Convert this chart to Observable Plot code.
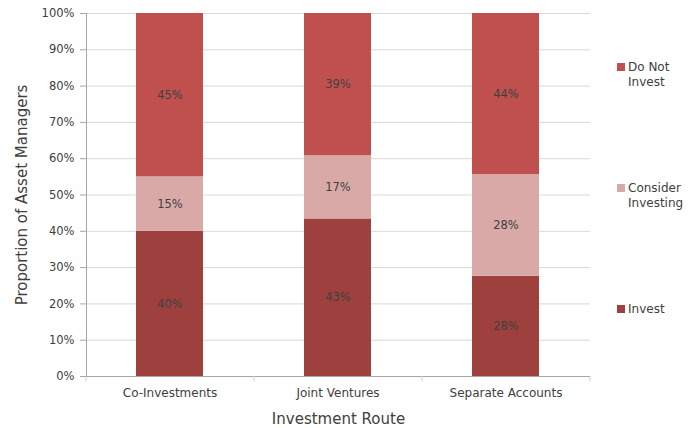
<!DOCTYPE html>
<html>
<head>
<meta charset="utf-8">
<script src="https://cdn.jsdelivr.net/npm/d3@7"></script>
<script src="https://cdn.jsdelivr.net/npm/@observablehq/plot@0.6"></script>
<style>
  body { margin: 0; background: #fff; }
  #wrap { position: relative; width: 694px; height: 428px; font-family: "DejaVu Sans", sans-serif; }
  .leg { position: absolute; left: 617px; display: flex; align-items: flex-start; font-size: 12px; color: #404040; line-height: 15px; }
  .leg .sw { width: 8px; height: 8px; margin-top: 1px; margin-right: 3px; flex: none; }
  .leg .lb { width: 64px; margin-top: -2px; }
</style>
</head>
<body>
<div id="wrap"></div>
<script>
const categories = ["Co-Investments", "Joint Ventures", "Separate Accounts"];
const series = ["Invest", "Consider Investing", "Do Not Invest"];
const invest = [40, 43.4, 27.6];
const consider = [15, 17.4, 28.0];
const doNotInvest = [45, 39.2, 44.4];
const colors = ["#9e413e", "#d9a9a7", "#c0504d"];
const yTicks = [0, 0.1, 0.2, 0.3, 0.4, 0.5, 0.6, 0.7, 0.8, 0.9, 1.0];

const valuesBySeries = [invest, consider, doNotInvest];
const data = [];
series.forEach((s, si) => categories.forEach((c, ci) => data.push({cat: c, series: s, value: valuesBySeries[si][ci]})));

const W = 694, H = 428, mL = 86, mR = 104;
const step = (W - mL - mR) / categories.length;

const stackOpts = {offset: "normalize", order: series};

const chart = Plot.plot({
  width: W,
  height: H,
  marginLeft: mL,
  marginRight: mR,
  marginTop: 13,
  marginBottom: 52,
  style: {fontFamily: "DejaVu Sans, sans-serif", fontSize: "11px", color: "#404040", background: "white"},
  x: {domain: categories, paddingInner: 0.6, paddingOuter: 0.3, align: 0.5, label: null},
  y: {domain: [0, 1], label: null},
  color: {domain: series, range: colors},
  marks: [
    Plot.gridY(yTicks, {stroke: "#d9d9d9", strokeOpacity: 1}),
    Plot.barY(data, Plot.stackY({...stackOpts, x: "cat", y: "value", z: "series", fill: "series"})),
    Plot.text(data, Plot.stackY({...stackOpts, x: "cat", y: "value", z: "series",
      text: d => Math.round(d.value) + "%", fill: "#404040", fontSize: 11.5})),
    Plot.ruleY([0], {stroke: "#a6a6a6"}),
    Plot.frame({anchor: "left", stroke: "#a6a6a6"}),
    Plot.ruleX(categories, {x: d => d, dx: -step / 2, y1: 0, y2: -0.015, stroke: "#d0d0d0", clip: false}),
    Plot.ruleX(categories.slice(-1), {x: d => d, dx: step / 2, y1: 0, y2: -0.015, stroke: "#d0d0d0", clip: false}),
    Plot.axisY({ticks: yTicks, tickFormat: d => Math.round(d * 100) + "%", tickSize: 6, tickPadding: 6,
      stroke: "#a6a6a6", color: "#404040", fontSize: 11.5, label: null}),
    Plot.axisX({tickSize: 0, tickPadding: 12, fontSize: 12, label: null}),
    Plot.text(["Proportion of Asset Managers"], {frameAnchor: "left", dx: -64, rotate: -90, textAnchor: "middle", fontSize: 15, fill: "#404040"}),
    Plot.text(["Investment Route"], {frameAnchor: "bottom", dy: 47, fontSize: 15, fill: "#404040"})
  ]
});

const wrap = document.getElementById("wrap");
wrap.appendChild(chart);

const legendOrder = [2, 1, 0];
legendOrder.forEach((si, i) => {
  const item = document.createElement("div");
  item.className = "leg";
  item.style.top = (62 + i * 121) + "px";
  const sw = document.createElement("div");
  sw.className = "sw";
  sw.style.background = colors[si];
  const lb = document.createElement("div");
  lb.className = "lb";
  lb.textContent = series[si];
  item.appendChild(sw);
  item.appendChild(lb);
  wrap.appendChild(item);
});
</script>
</body>
</html>
